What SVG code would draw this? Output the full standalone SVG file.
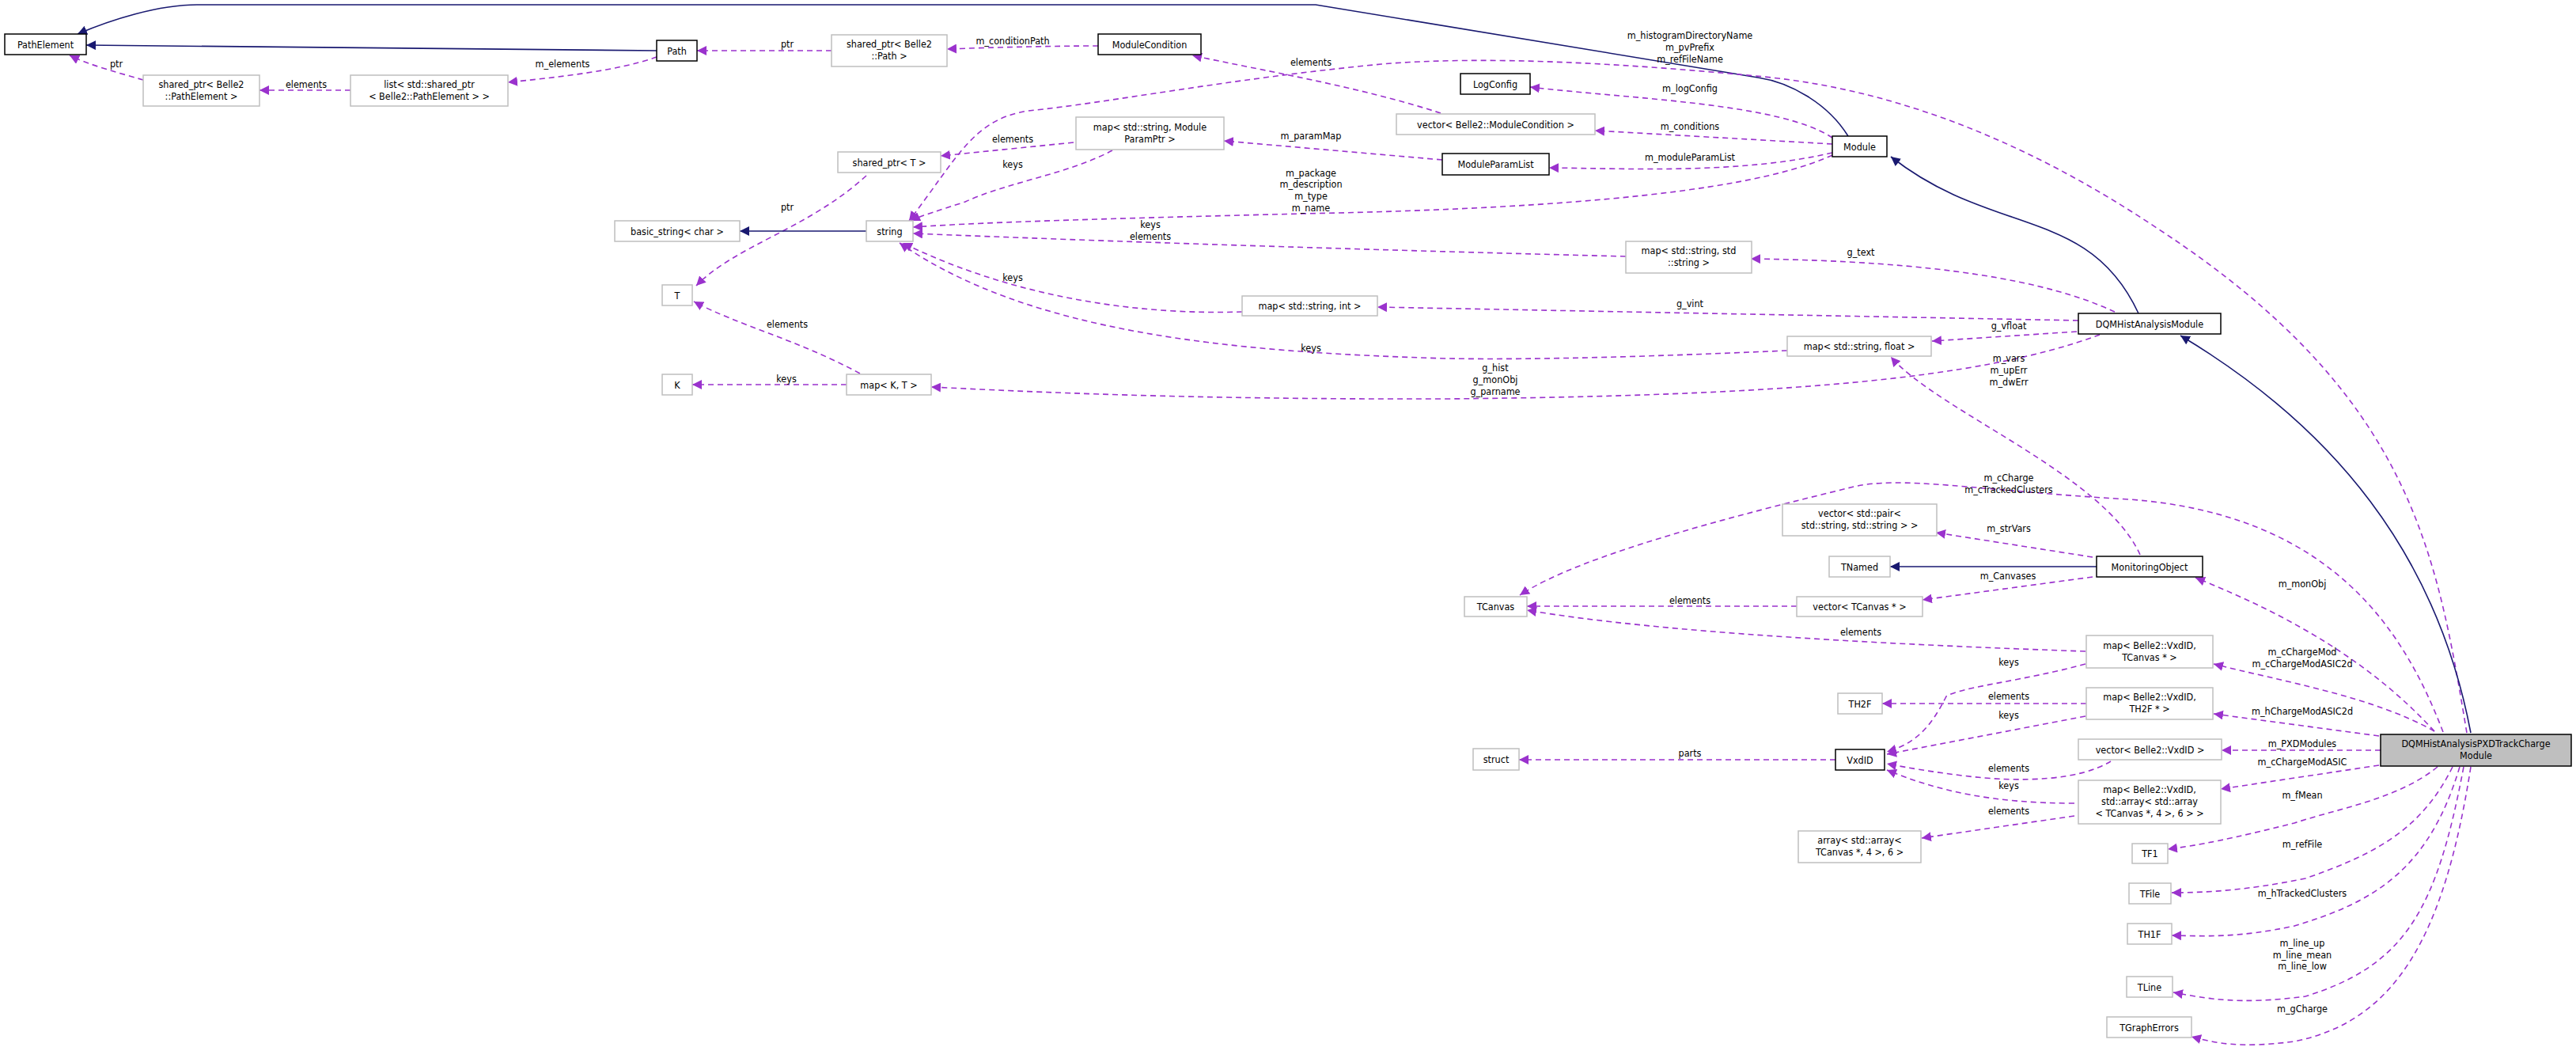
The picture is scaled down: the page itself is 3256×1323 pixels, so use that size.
<svg xmlns="http://www.w3.org/2000/svg" width="3256" height="1323" viewBox="0 0 3256 1323">
<style>
text{font-family:"DejaVu Sans Condensed","DejaVu Sans",sans-serif;font-size:12.5px;fill:#000;text-anchor:middle}
.n rect{fill:#fff;stroke:#bfbfbf;stroke-width:1.5}
.d rect{fill:#fff;stroke:#000;stroke-width:1.5}
.u{fill:none;stroke:#9a32cd;stroke-width:1.6;stroke-dasharray:7,5}
.b{fill:none;stroke:#191970;stroke-width:1.6}
</style>
<defs>
<marker id="ap" markerUnits="userSpaceOnUse" markerWidth="14" markerHeight="12" refX="12" refY="6" orient="auto"><path d="M0,0L12,6L0,12z" fill="#9a32cd"/></marker>
<marker id="ab" markerUnits="userSpaceOnUse" markerWidth="14" markerHeight="12" refX="12" refY="6" orient="auto"><path d="M0,0L12,6L0,12z" fill="#191970"/></marker>
</defs>
<rect width="3256" height="1323" fill="#fff"/>
<g id="connectors">
<path class="b" marker-end="url(#ab)" d="M2336,172C2310,130 2262,104 2222,98L1663,6L249,6C200,6 140,25 98,43"/>
<path class="b" marker-end="url(#ab)" d="M830,64L109,57"/>
<path class="u" marker-end="url(#ap)" d="M181,101C150,92 112,82 88,70"/>
<path class="u" marker-end="url(#ap)" d="M443,114L328,114"/>
<path class="u" marker-end="url(#ap)" d="M830,72C780,90 700,98 642,104"/>
<path class="u" marker-end="url(#ap)" d="M1051,64L881,64"/>
<path class="u" marker-end="url(#ap)" d="M1388,58C1330,58 1250,60 1197,62"/>
<path class="u" marker-end="url(#ap)" d="M1821,143C1720,110 1600,90 1507,70"/>
<path class="u" marker-end="url(#ap)" d="M2316,174C2250,130 2060,125 1934,110"/>
<path class="u" marker-end="url(#ap)" d="M2316,182L2016,165"/>
<path class="u" marker-end="url(#ap)" d="M2316,193C2200,220 2060,213 1958,212"/>
<path class="u" marker-end="url(#ap)" d="M2316,196C2200,250 1900,265 1647,270C1450,275 1250,280 1154,287"/>
<path class="u" marker-end="url(#ap)" d="M3118,926C3080,700 3050,500 2729,290C2550,170 2380,110 2219,96C2050,80 1879,70 1746,81C1550,100 1400,130 1300,140C1230,150 1210,200 1149,279"/>
<path class="u" marker-end="url(#ap)" d="M1357,180L1189,197"/>
<path class="u" marker-end="url(#ap)" d="M1406,190C1350,220 1274,230 1220,255C1190,265 1165,272 1151,279"/>
<path class="u" marker-end="url(#ap)" d="M1823,202L1547,178"/>
<path class="u" marker-end="url(#ap)" d="M1095,222C1020,290 930,310 880,361"/>
<path class="b" marker-end="url(#ab)" d="M1095,292L935,292"/>
<path class="u" marker-end="url(#ap)" d="M2055,324C1700,315 1400,305 1154,295"/>
<path class="u" marker-end="url(#ap)" d="M2673,394C2589,355 2450,330 2213,327"/>
<path class="u" marker-end="url(#ap)" d="M1570,394C1450,398 1290,380 1141,307"/>
<path class="u" marker-end="url(#ap)" d="M2627,405L1741,388"/>
<path class="u" marker-end="url(#ap)" d="M2625,419L2442,431"/>
<path class="u" marker-end="url(#ap)" d="M2259,443C2100,450 1950,455 1829,453C1550,445 1300,420 1137,307"/>
<path class="u" marker-end="url(#ap)" d="M2654,423C2500,480 2250,500 1829,504C1500,505 1300,495 1177,489"/>
<path class="u" marker-end="url(#ap)" d="M1087,472C1010,430 930,410 877,381"/>
<path class="u" marker-end="url(#ap)" d="M1070,486L875,486"/>
<path class="b" marker-end="url(#ab)" d="M2703,396C2640,260 2520,300 2390,198"/>
<path class="b" marker-end="url(#ab)" d="M3123,926C3080,700 2950,540 2756,424"/>
<path class="u" marker-end="url(#ap)" d="M3077,924C3000,840 2900,780 2775,730"/>
<path class="u" marker-end="url(#ap)" d="M3088,925C3040,800 2950,650 2691,631C2500,620 2400,600 2339,616C2200,650 2000,700 1921,752"/>
<path class="u" marker-end="url(#ap)" d="M2645,704L2447,673"/>
<path class="b" marker-end="url(#ab)" d="M2650,716L2389,716"/>
<path class="u" marker-end="url(#ap)" d="M2645,729L2430,758"/>
<path class="u" marker-end="url(#ap)" d="M2705,701C2660,600 2450,520 2390,451"/>
<path class="u" marker-end="url(#ap)" d="M2271,766L1930,766"/>
<path class="u" marker-end="url(#ap)" d="M2636,823C2400,815 2100,800 1930,771"/>
<path class="u" marker-end="url(#ap)" d="M2636,839C2560,860 2478,868 2460,880C2440,920 2420,940 2385,950"/>
<path class="u" marker-end="url(#ap)" d="M3077,924C3000,880 2880,860 2798,839"/>
<path class="u" marker-end="url(#ap)" d="M2637,889L2379,889"/>
<path class="u" marker-end="url(#ap)" d="M2636,905L2385,953"/>
<path class="u" marker-end="url(#ap)" d="M3007,930L2798,902"/>
<path class="u" marker-end="url(#ap)" d="M2320,960L1920,960"/>
<path class="u" marker-end="url(#ap)" d="M3009,948L2808,948"/>
<path class="u" marker-end="url(#ap)" d="M2668,962C2630,985 2560,990 2480,980C2440,975 2410,970 2385,965"/>
<path class="u" marker-end="url(#ap)" d="M3007,967L2807,997"/>
<path class="u" marker-end="url(#ap)" d="M2622,1015C2520,1015 2450,1000 2385,973"/>
<path class="u" marker-end="url(#ap)" d="M2622,1031L2429,1059"/>
<path class="u" marker-end="url(#ap)" d="M3081,969C3030,1010 2961,1020 2900,1040C2820,1060 2780,1068 2740,1073"/>
<path class="u" marker-end="url(#ap)" d="M3100,969C3060,1050 3000,1080 2914,1110C2840,1125 2790,1128 2745,1128"/>
<path class="u" marker-end="url(#ap)" d="M3109,969C3070,1100 3000,1140 2900,1170C2830,1185 2790,1183 2745,1182"/>
<path class="u" marker-end="url(#ap)" d="M3114,969C3080,1150 3040,1220 2914,1259C2830,1270 2790,1262 2747,1254"/>
<path class="u" marker-end="url(#ap)" d="M3123,969C3090,1180 3030,1290 2900,1316C2830,1325 2800,1318 2770,1310"/>
</g>
<g id="labels">
<text x="147" y="85">ptr</text>
<text x="387" y="111">elements</text>
<text x="711" y="85">m_elements</text>
<text x="995" y="60">ptr</text>
<text x="1280" y="56">m_conditionPath</text>
<text x="1657" y="83">elements</text>
<text x="2136" y="49">m_histogramDirectoryName</text>
<text x="2136" y="64">m_pvPrefix</text>
<text x="2136" y="79">m_refFileName</text>
<text x="2136" y="116">m_logConfig</text>
<text x="2136" y="164">m_conditions</text>
<text x="1657" y="176">m_paramMap</text>
<text x="1280" y="180">elements</text>
<text x="1280" y="212">keys</text>
<text x="2136" y="203">m_moduleParamList</text>
<text x="1657" y="223">m_package</text>
<text x="1657" y="237">m_description</text>
<text x="1657" y="252">m_type</text>
<text x="1657" y="267">m_name</text>
<text x="995" y="266">ptr</text>
<text x="1454" y="288">keys</text>
<text x="1454" y="303">elements</text>
<text x="2352" y="323">g_text</text>
<text x="1280" y="355">keys</text>
<text x="2136" y="388">g_vint</text>
<text x="995" y="414">elements</text>
<text x="2539" y="416">g_vfloat</text>
<text x="1657" y="444">keys</text>
<text x="2539" y="457">m_vars</text>
<text x="2539" y="472">m_upErr</text>
<text x="2539" y="487">m_dwErr</text>
<text x="1890" y="469">g_hist</text>
<text x="1890" y="484">g_monObj</text>
<text x="1890" y="499">g_parname</text>
<text x="994" y="483">keys</text>
<text x="2539" y="608">m_cCharge</text>
<text x="2539" y="623">m_cTrackedClusters</text>
<text x="2539" y="672">m_strVars</text>
<text x="2538" y="732">m_Canvases</text>
<text x="2910" y="742">m_monObj</text>
<text x="2136" y="763">elements</text>
<text x="2352" y="803">elements</text>
<text x="2910" y="828">m_cChargeMod</text>
<text x="2910" y="843">m_cChargeModASIC2d</text>
<text x="2539" y="841">keys</text>
<text x="2539" y="884">elements</text>
<text x="2910" y="903">m_hChargeModASIC2d</text>
<text x="2539" y="908">keys</text>
<text x="2910" y="944">m_PXDModules</text>
<text x="2136" y="956">parts</text>
<text x="2910" y="967">m_cChargeModASIC</text>
<text x="2539" y="975">elements</text>
<text x="2539" y="997">keys</text>
<text x="2910" y="1009">m_fMean</text>
<text x="2539" y="1029">elements</text>
<text x="2910" y="1071">m_refFile</text>
<text x="2910" y="1133">m_hTrackedClusters</text>
<text x="2910" y="1196">m_line_up</text>
<text x="2910" y="1211">m_line_mean</text>
<text x="2910" y="1225">m_line_low</text>
<text x="2910" y="1279">m_gCharge</text>
</g>
<g id="PathElement" class="d"><rect x="6" y="43" width="103" height="26"/><text x="57.5" y="60.5">PathElement</text></g>
<g id="Path" class="d"><rect x="830" y="51" width="51" height="26"/><text x="855.5" y="68.5">Path</text></g>
<g id="sp_PathElement" class="n"><rect x="181" y="95" width="147" height="39"/><text x="254.5" y="111">shared_ptr&lt; Belle2</text><text x="254.5" y="126">::PathElement &gt;</text></g>
<g id="list_sp" class="n"><rect x="443" y="95" width="199" height="39"/><text x="542.5" y="111">list&lt; std::shared_ptr</text><text x="542.5" y="126">&lt; Belle2::PathElement &gt; &gt;</text></g>
<g id="sp_Path" class="n"><rect x="1051" y="44" width="146" height="40"/><text x="1124" y="60">shared_ptr&lt; Belle2</text><text x="1124" y="75">::Path &gt;</text></g>
<g id="ModuleCondition" class="d"><rect x="1388" y="43" width="130" height="26"/><text x="1453" y="60.5">ModuleCondition</text></g>
<g id="LogConfig" class="d"><rect x="1846" y="93" width="88" height="26"/><text x="1890" y="110.5">LogConfig</text></g>
<g id="vec_ModuleCondition" class="n"><rect x="1765" y="144" width="251" height="26"/><text x="1890.5" y="161.5">vector&lt; Belle2::ModuleCondition &gt;</text></g>
<g id="map_ModuleParamPtr" class="n"><rect x="1360" y="148" width="187" height="41"/><text x="1453.5" y="165">map&lt; std::string, Module</text><text x="1453.5" y="180">ParamPtr &gt;</text></g>
<g id="ModuleParamList" class="d"><rect x="1823" y="194" width="135" height="27"/><text x="1890.5" y="212">ModuleParamList</text></g>
<g id="sp_T" class="n"><rect x="1059" y="192" width="130" height="26"/><text x="1124" y="209.5">shared_ptr&lt; T &gt;</text></g>
<g id="basic_string" class="n"><rect x="777" y="279" width="158" height="26"/><text x="856" y="296.5">basic_string&lt; char &gt;</text></g>
<g id="string" class="n"><rect x="1095" y="279" width="59" height="26"/><text x="1124.5" y="296.5">string</text></g>
<g id="T" class="n"><rect x="837" y="360" width="38" height="26"/><text x="856" y="377.5">T</text></g>
<g id="K" class="n"><rect x="837" y="473" width="38" height="26"/><text x="856" y="490.5">K</text></g>
<g id="map_K_T" class="n"><rect x="1070" y="473" width="107" height="26"/><text x="1123.5" y="490.5">map&lt; K, T &gt;</text></g>
<g id="map_string_string" class="n"><rect x="2055" y="305" width="159" height="40"/><text x="2134.5" y="321">map&lt; std::string, std</text><text x="2134.5" y="336">::string &gt;</text></g>
<g id="map_string_int" class="n"><rect x="1570" y="374" width="171" height="25"/><text x="1655.5" y="391">map&lt; std::string, int &gt;</text></g>
<g id="map_string_float" class="n"><rect x="2259" y="425" width="182" height="25"/><text x="2350" y="442">map&lt; std::string, float &gt;</text></g>
<g id="Module" class="d"><rect x="2316" y="172" width="69" height="26"/><text x="2350.5" y="189.5">Module</text></g>
<g id="DQMHistAnalysisModule" class="d"><rect x="2627" y="396" width="180" height="26"/><text x="2717" y="413.5">DQMHistAnalysisModule</text></g>
<g id="TCanvas" class="n"><rect x="1851" y="754" width="79" height="25"/><text x="1890.5" y="771">TCanvas</text></g>
<g id="vec_pair" class="n"><rect x="2253" y="637" width="195" height="40"/><text x="2350.5" y="653">vector&lt; std::pair&lt;</text><text x="2350.5" y="668">std::string, std::string &gt; &gt;</text></g>
<g id="TNamed" class="n"><rect x="2312" y="703" width="77" height="26"/><text x="2350.5" y="720.5">TNamed</text></g>
<g id="MonitoringObject" class="d"><rect x="2650" y="703" width="134" height="26"/><text x="2717" y="720.5">MonitoringObject</text></g>
<g id="vec_TCanvas" class="n"><rect x="2271" y="754" width="159" height="25"/><text x="2350.5" y="771">vector&lt; TCanvas * &gt;</text></g>
<g id="map_VxdID_TCanvas" class="n"><rect x="2637" y="803" width="160" height="41"/><text x="2717" y="820">map&lt; Belle2::VxdID,</text><text x="2717" y="835">TCanvas * &gt;</text></g>
<g id="map_VxdID_TH2F" class="n"><rect x="2637" y="869" width="160" height="40"/><text x="2717" y="885">map&lt; Belle2::VxdID,</text><text x="2717" y="900">TH2F * &gt;</text></g>
<g id="TH2F" class="n"><rect x="2323" y="876" width="56" height="26"/><text x="2351" y="893.5">TH2F</text></g>
<g id="struct" class="n"><rect x="1862" y="946" width="58" height="27"/><text x="1891" y="964">struct</text></g>
<g id="VxdID" class="d"><rect x="2320" y="947" width="62" height="26"/><text x="2351" y="964.5">VxdID</text></g>
<g id="vec_VxdID" class="n"><rect x="2627" y="934" width="181" height="26"/><text x="2717.5" y="951.5">vector&lt; Belle2::VxdID &gt;</text></g>
<g id="map_VxdID_array" class="n"><rect x="2627" y="986" width="180" height="55"/><text x="2717" y="1002">map&lt; Belle2::VxdID,</text><text x="2717" y="1017">std::array&lt; std::array</text><text x="2717" y="1032">&lt; TCanvas *, 4 &gt;, 6 &gt; &gt;</text></g>
<g id="array_array" class="n"><rect x="2273" y="1050" width="155" height="40"/><text x="2350.5" y="1066">array&lt; std::array&lt;</text><text x="2350.5" y="1081">TCanvas *, 4 &gt;, 6 &gt;</text></g>
<g id="TF1" class="n"><rect x="2695" y="1066" width="45" height="25"/><text x="2717.5" y="1083">TF1</text></g>
<g id="TFile" class="n"><rect x="2691" y="1116" width="53" height="26"/><text x="2717.5" y="1133.5">TFile</text></g>
<g id="TH1F" class="n"><rect x="2689" y="1167" width="56" height="26"/><text x="2717" y="1184.5">TH1F</text></g>
<g id="TLine" class="n"><rect x="2688" y="1234" width="58" height="26"/><text x="2717" y="1251.5">TLine</text></g>
<g id="TGraphErrors" class="n"><rect x="2663" y="1285" width="107" height="26"/><text x="2716.5" y="1302.5">TGraphErrors</text></g>
<g id="DQMHistAnalysisPXDTrackChargeModule"><rect x="3009" y="928" width="241" height="40" fill="#bfbfbf" stroke="#000" stroke-width="1.5"/><text x="3129.5" y="944">DQMHistAnalysisPXDTrackCharge</text><text x="3129.5" y="959">Module</text></g>
</svg>
